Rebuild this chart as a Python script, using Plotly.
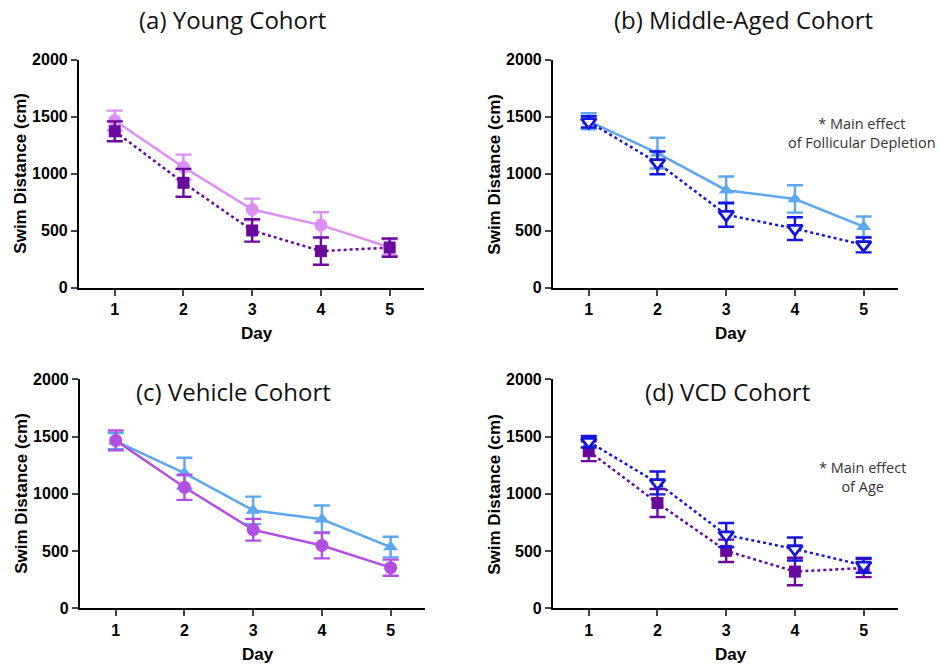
import plotly.graph_objects as go

days = [1, 2, 3, 4, 5]

young_veh = [1466, 1057, 686, 549, 355]
young_veh_err = [87, 110, 95, 113, 70]
young_vcd = [1372, 920, 502, 321, 352]
young_vcd_err = [87, 122, 98, 120, 80]
mid_veh = [1460, 1180, 855, 778, 535]
mid_veh_err = [70, 135, 120, 120, 90]
mid_vcd = [1455, 1095, 640, 518, 375]
mid_vcd_err = [50, 100, 105, 100, 65]

titles = ["(a) Young Cohort", "(b) Middle-Aged Cohort", "(c) Vehicle Cohort", "(d) VCD Cohort"]
notes = ["* Main effect<br>of Follicular Depletion", "* Main effect<br>of Age"]
y_ticks = [0, 500, 1000, 1500, 2000]

W, H = 939, 668
LIGHT_VIOLET = "#dc90f2"
MED_VIOLET = "#b24fe0"
DARK_PURPLE = "#6a0a9c"
LIGHT_BLUE = "#5ea6ee"
BLUE = "#1515dd"

fig = go.Figure()

def px_x(p):
    return p / W

def px_y(p):
    return 1 - p / H

# panel pixel boxes: (x0, x1, ytop, ybottom)
boxes = {
    1: (79, 424, 53, 287),
    2: (553, 898, 53, 287),
    3: (80, 425, 381, 616),
    4: (553, 898, 381, 616),
}

def add_series(k, y, err, color, symbol, dash, fill=None, msize=10):
    ax = "" if k == 1 else str(k)
    fig.add_trace(go.Scatter(
        x=days, y=y, mode="lines+markers",
        xaxis="x" + ax, yaxis="y" + ax,
        line=dict(color=color, width=2.5, dash=dash),
        marker=dict(symbol=symbol, size=msize, color=fill if fill else color,
                    line=dict(color=color, width=2.8 if fill else 0)),
        error_y=dict(type="data", array=err, visible=True, color=color,
                     thickness=2.4, width=8),
        showlegend=False, cliponaxis=False,
    ))

# (a) Young
add_series(1, young_veh, young_veh_err, LIGHT_VIOLET, "circle", "solid", msize=13)
add_series(1, young_vcd, young_vcd_err, DARK_PURPLE, "square", "dot", msize=12)
# (b) Middle-aged
add_series(2, mid_veh, mid_veh_err, LIGHT_BLUE, "triangle-up", "solid", msize=13)
add_series(2, mid_vcd, mid_vcd_err, BLUE, "triangle-down", "dot", fill="white", msize=13)
# (c) Vehicle
add_series(3, mid_veh, mid_veh_err, LIGHT_BLUE, "triangle-up", "solid", msize=13)
add_series(3, young_veh, young_veh_err, MED_VIOLET, "circle", "solid", msize=13)
# (d) VCD
add_series(4, young_vcd, young_vcd_err, DARK_PURPLE, "square", "dot", msize=12)
add_series(4, mid_vcd, mid_vcd_err, BLUE, "triangle-down", "dot", fill="white", msize=13)

layout = dict(
    width=W, height=H, margin=dict(l=0, r=0, t=0, b=0),
    plot_bgcolor="white", paper_bgcolor="white",
    font=dict(family="Liberation Sans, Arial", color="black"),
)

annotations = []
for k, (x0, x1, yt, yb) in boxes.items():
    ax = "" if k == 1 else str(k)
    layout["xaxis" + ax] = dict(
        domain=[px_x(x0), px_x(x1)], range=[0.48, 5.5],
        anchor="y" + ax, tickvals=days, ticks="outside", ticklen=6, tickwidth=2,
        showline=True, linecolor="black", linewidth=2.2, showgrid=False, zeroline=False,
        tickfont=dict(family="Liberation Sans, Arial", size=16, color="black", weight="bold"),
    )
    layout["yaxis" + ax] = dict(
        domain=[px_y(yb), px_y(yt)], range=[0, 2000],
        anchor="x" + ax, tickvals=y_ticks, ticks="outside", ticklen=6, tickwidth=2,
        showline=True, linecolor="black", linewidth=2.2, showgrid=False, zeroline=False,
        tickfont=dict(family="Liberation Sans, Arial", size=16, color="black", weight="bold"),
    )
    annotations.append(dict(
        text="<b>Swim Distance (cm)</b>", textangle=-90, xref="paper", yref="paper",
        x=px_x(x0 - 58), y=px_y((yt + yb) / 2), showarrow=False,
        font=dict(family="Liberation Sans, Arial", size=17, color="black"),
        xanchor="center", yanchor="middle",
    ))
    annotations.append(dict(
        text="<b>Day</b>", xref="paper", yref="paper",
        x=px_x((x0 + x1) / 2 + 5), y=px_y(yb + 47), showarrow=False,
        font=dict(family="Liberation Sans, Arial", size=17, color="black"),
        xanchor="center", yanchor="middle",
    ))

title_pos = [(232, 12), (743, 12), (233, 394), (727, 394)]
for t, (tx, ty) in zip(titles, title_pos):
    annotations.append(dict(
        text=t, xref="paper", yref="paper", x=px_x(tx), y=px_y(ty),
        showarrow=False, xanchor="center", yanchor="middle",
        font=dict(family="Open Sans", size=24, color="#111111"),
    ))

note_pos = [(862, 128), (862, 481)]
for t, (nx, ny) in zip(notes, note_pos):
    annotations.append(dict(
        text=t, xref="paper", yref="paper", x=px_x(nx), y=px_y(ny),
        showarrow=False, xanchor="center", yanchor="middle", align="center",
        font=dict(family="Open Sans", size=14.5, color="#333333"),
    ))

layout["annotations"] = annotations
fig.update_layout(**layout)
fig.write_html("out.html")
